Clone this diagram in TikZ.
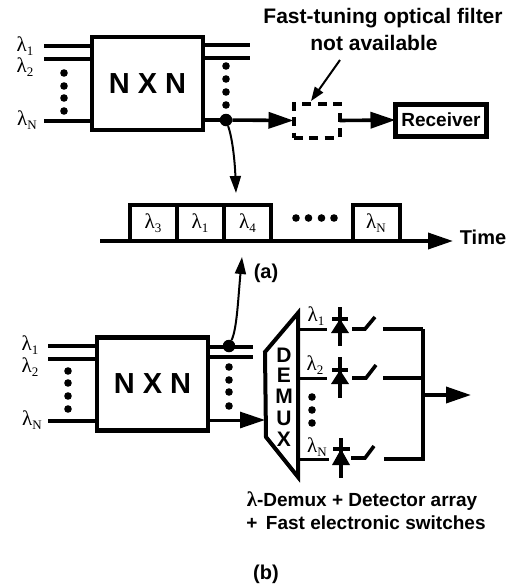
\documentclass[tikz,border=0pt]{standalone}
\usepackage{fontspec}
\setmainfont{Liberation Sans}
\newfontfamily\lamfont{Liberation Serif}
\usetikzlibrary{arrows.meta}
% wavelength label: lambda with its index
\newcommand{\lam}[1]{{\lamfont\fontsize{21}{21}\selectfont λ\raisebox{-4pt}{\fontsize{13}{13}\selectfont #1}}}
\tikzset{
    txt/.style={inner sep=0pt,font=\bfseries\fontsize{19}{19}\selectfont},
    bigtxt/.style={inner sep=0pt,font=\bfseries\fontsize{21}{21}\selectfont},
    fatline/.style={line width=3.6pt},
    fatarrow/.style={line width=3.6pt,-{Triangle[length=25pt,width=16pt]}},
    thinarrow/.style={line width=2pt,-{Triangle[length=17pt,width=11pt]}},
    bigbox/.style={draw,line width=4.4pt,outer sep=0pt,inner sep=0pt,font=\bfseries\fontsize{29}{29}\selectfont},
    slotbox/.style={draw,line width=4pt,outer sep=0pt,inner sep=0pt,minimum height=36pt},
    junction/.style={circle,fill,inner sep=0pt,minimum size=12.5pt}
}
\begin{document}
\begin{tikzpicture}[x=1pt,y=-1pt]
    \useasboundingbox (0,0) rectangle (508,584);

    % Switch in (a)
    \node[bigbox,minimum width=111pt,minimum height=93pt] (nxna) at (147.5,83.5) {N X N};

    % Input and output lines in (a)
    \coordinate (ain1) at (44,46);
    \coordinate (ain2) at (44,59);
    \coordinate (ainN) at (44,121);
    \coordinate (aout1) at (250,45);
    \coordinate (aout2) at (250,58);
    \draw[fatline] (ain1) -- (ain1 -| nxna.west);
    \draw[fatline] (ain2) -- (ain2 -| nxna.west);
    \draw[fatline] (ainN) -- (ainN -| nxna.west);
    \draw[fatline] (aout1 -| nxna.east) -- (aout1);
    \draw[fatline] (aout2 -| nxna.east) -- (aout2);
    \node at (25,46) (la1) {\lam{1}};
    \node at (25,67) (la2) {\lam{2}};
    \node at (27,120) (laN) {\lam{N}};
    \fill (64,73) circle (3.8) (64,86) circle (3.8) (64,98) circle (3.8) (64,111) circle (3.8);
    \fill (226,66) circle (3.8) (226,79) circle (3.8) (226,92) circle (3.8) (226,105) circle (3.8);

    % Filter and receiver
    \node[draw,line width=4pt,dash pattern=on 9pt off 6.5pt,outer sep=0pt,minimum width=46pt,minimum height=34pt] (filter) at (316.5,120.5) {};
    \node[draw,line width=5pt,outer sep=0pt,inner sep=0pt,minimum width=91pt,minimum height=32pt,txt] (receiver) at (441,120) {Receiver};
    \node[junction] (adot) at (226,120) {};
    \draw[fatline] (nxna.east |- adot) -- (adot);
    \draw[fatarrow] (adot) -- (filter.west);
    \draw[fatarrow] (filter.east) -- (receiver.west);
    \node[bigtxt] (ftitle) at (383,18) {Fast-tuning optical filter};
    \node[bigtxt] (ftitleb) at (374,43) {not available};
    \coordinate (fnote) at (340,60);
    \draw[line width=2pt,-{Triangle[length=14pt,width=10pt]}] (fnote) -- (311,101);

    % Time slots
    \node[slotbox,minimum width=47pt] (s1) at (153,223) {\lam{3}};
    \node[slotbox,minimum width=47pt] (s2) at (200,223) {\lam{1}};
    \node[slotbox,minimum width=47pt] (s3) at (247.5,223) {\lam{4}};
    \node[slotbox,minimum width=47pt] (s4) at (376,223) {\lam{N}};
    \fill (296,218) circle (3.8) (308.5,218) circle (3.8) (321.5,218) circle (3.8) (334,218) circle (3.8);
    \coordinate (tstart) at (100,241);
    \coordinate (tend) at (453,241);
    \draw[fatarrow] (tstart) -- (tend);
    \node[txt,font=\bfseries\fontsize{20}{20}\selectfont] (tlabel) at (483,237) {Time};
    \coordinate (tdown) at (236,193);
    \draw[thinarrow] (adot) .. controls (233,140) and (235,165) .. (tdown);
    \node[txt,font=\bfseries\fontsize{20}{20}\selectfont] (alabel) at (266,273) {(a)};

    % Switch in (b)
    \node[bigbox,minimum width=111pt,minimum height=93pt] (nxnb) at (152.5,384) {N X N};

    % Input and output lines in (b)
    \coordinate (bin1) at (48,346);
    \coordinate (bin2) at (48,359);
    \coordinate (binN) at (48,421);
    \coordinate (bout1) at (253,347);
    \coordinate (bout2) at (253,357);
    \draw[fatline] (bin1) -- (bin1 -| nxnb.west);
    \draw[fatline] (bin2) -- (bin2 -| nxnb.west);
    \draw[fatline] (binN) -- (binN -| nxnb.west);
    \draw[fatline] (bout1 -| nxnb.east) -- (bout1);
    \draw[fatline] (bout2 -| nxnb.east) -- (bout2);
    \node at (30,345) (lb1) {\lam{1}};
    \node at (30,367) (lb2) {\lam{2}};
    \node at (32,420) (lbN) {\lam{N}};
    \fill (68,371) circle (3.8) (68,383) circle (3.8) (68,396) circle (3.8) (68,409) circle (3.8);
    \fill (229,367) circle (3.8) (229,380) circle (3.8) (229,392) circle (3.8) (229,406) circle (3.8);
    \node[junction] (bdot) at (229,346) {};
    \coordinate (tup) at (242,257);
    \draw[thinarrow] (bdot) .. controls (237,328) and (238,300) .. (tup);

    % Demux
    \draw[line width=4pt,line join=miter] (298,313) -- (265,352) -- (266,437) -- (298,477) -- cycle;
    \coordinate (dmxin) at (265,420);
    \draw[fatarrow,line width=3pt] (nxnb.east |- dmxin) -- (dmxin);
    \node[bigtxt] (dd) at (284,355) {D};
    \node[bigtxt] (de) at (284,375) {E};
    \node[bigtxt] (dm) at (284,396) {M};
    \node[bigtxt] (du) at (284,418) {U};
    \node[bigtxt] (dx) at (284,439) {X};

    % Detector 1
    \draw[fatline,line width=3pt] (298,329) -- (327,329);
    \draw[fatline] (340,307) -- (340,346);
    \draw[fatline] (332,319) -- (348,319);
    \fill (340,319) -- (349,333) -- (331,333) -- cycle;
    \draw[fatline] (352,329) -- (365,329) -- (375,317);
    \draw[fatline] (383,329) -- (423,329);
    \node at (316,316) (ld1) {\lam{1}};

    % Detector 2
    \draw[fatline,line width=3pt] (298,378) -- (327,378);
    \draw[fatline] (340,357) -- (340,398);
    \draw[fatline] (332,370) -- (348,370);
    \fill (340,370) -- (349,384) -- (331,384) -- cycle;
    \draw[fatline] (352,378) -- (366,378) -- (376,365);
    \draw[fatline] (383,378) -- (423,378);
    \node at (315,365) (ld2) {\lam{2}};
    \fill (312,397) circle (3.8) (312,410) circle (3.8) (312,423) circle (3.8);

    % Detector N
    \draw[fatline,line width=3pt] (298,459) -- (329,459);
    \draw[fatline] (341,438) -- (341,478);
    \draw[fatline] (333,449) -- (350,449);
    \fill (341,449) -- (350,465) -- (332,465) -- cycle;
    \draw[fatline] (351,458) -- (365,458) -- (374,446);
    \draw[fatline] (384,459) -- (423,459) -- (423,329);
    \node at (317,447) (ldN) {\lam{N}};

    % Combined output
    \coordinate (busout) at (423,395);
    \coordinate (busend) at (471,395);
    \draw[fatarrow] (busout) -- (busend);

    % Captions
    \node[txt] (cap1) at (362,501) {{\lamfont\fontsize{21}{21}\selectfont λ}-Demux + Detector array};
    \node[txt] (cap2) at (366,523) {+ \,Fast electronic switches};
    \node[txt,font=\bfseries\fontsize{20}{20}\selectfont] (blabel) at (266,574) {(b)};
\end{tikzpicture}
\end{document}
